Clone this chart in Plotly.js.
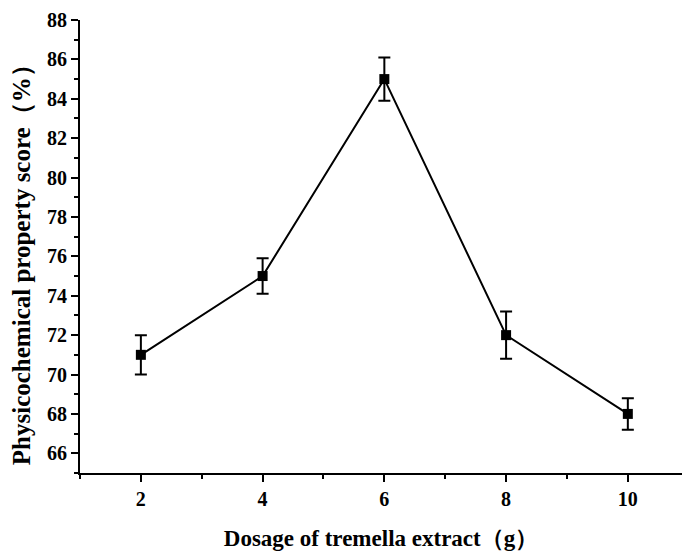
<!DOCTYPE html>
<html><head><meta charset="utf-8">
<script src="https://cdn.plot.ly/plotly-3.0.1.min.js"></script>
<style>html,body{margin:0;padding:0;background:#fff}</style>
</head><body><div id="chart" style="width:682px;height:551px"></div>
<script>
const dosage = [2, 4, 6, 8, 10];
const score = [71, 75, 85, 72, 68];
const errPlus = [1.0, 0.9, 1.1, 1.2, 0.8];
const errMinus = [1.0, 0.9, 1.1, 1.2, 0.8];
const xTickVals = [2, 4, 6, 8, 10];
const yTickVals = [66, 68, 70, 72, 74, 76, 78, 80, 82, 84, 86, 88];
const xTitle = 'Dosage of tremella extract（g）';
const yTitle = 'Physicochemical property score（%）';

const font = {family: '"Liberation Serif", "Times New Roman", serif', color: '#000'};
Plotly.newPlot('chart', [{
  x: dosage, y: score, type: 'scatter', mode: 'lines+markers',
  line: {color: '#000', width: 2},
  marker: {symbol: 'square', size: 10, color: '#000'},
  error_y: {type: 'data', symmetric: false, array: errPlus, arrayminus: errMinus, color: '#000', thickness: 2, width: 6}
}], {
  width: 682, height: 551,
  margin: {l: 80, r: 0, t: 20, b: 78},
  paper_bgcolor: '#fff', plot_bgcolor: '#fff',
  showlegend: false,
  xaxis: {
    range: [1, 10.89], tickvals: xTickVals, ticks: 'outside', ticklen: 7, tickwidth: 2, tickcolor: '#000',
    showline: true, linecolor: '#000', linewidth: 2, showgrid: false, zeroline: false,
    minor: {dtick: 1, tick0: 1, ticks: 'outside', ticklen: 4, tickwidth: 2, tickcolor: '#000', showgrid: false},
    tickfont: {...font, size: 20, weight: 'bold'},
    title: {text: '<b>' + xTitle + '</b>', font: {...font, size: 23}, standoff: 21}
  },
  yaxis: {
    range: [65, 88], tickvals: yTickVals, ticks: 'outside', ticklen: 7, tickwidth: 2, tickcolor: '#000',
    showline: true, linecolor: '#000', linewidth: 2, showgrid: false, zeroline: false,
    minor: {dtick: 1, tick0: 65, ticks: 'outside', ticklen: 4, tickwidth: 2, tickcolor: '#000', showgrid: false},
    tickfont: {...font, size: 20, weight: 'bold'}
  },
  annotations: [{
    text: '<b>' + yTitle + '</b>', textangle: -90, showarrow: false,
    xref: 'paper', yref: 'paper', x: 0, y: 0.472, xshift: -59,
    xanchor: 'center', yanchor: 'middle', font: {...font, size: 25}
  }]
}, {displayModeBar: false, staticPlot: true});
</script></body></html>
